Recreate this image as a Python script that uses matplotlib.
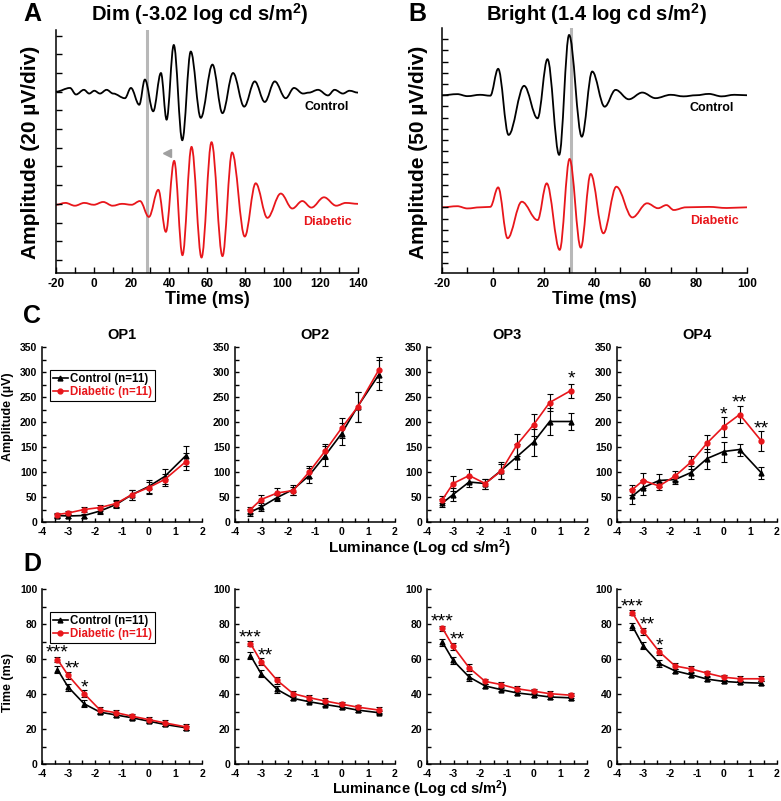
import matplotlib.pyplot as plt
from matplotlib.path import Path
from matplotlib.patches import PathPatch
from matplotlib.ticker import MultipleLocator

plt.rcParams['font.family'] = ['Liberation Sans', 'DejaVu Sans']
plt.rcParams['font.weight'] = 'bold'
plt.rcParams['axes.linewidth'] = 1.1
plt.rcParams['axes.unicode_minus'] = False
plt.rcParams['mathtext.fontset'] = 'custom'
plt.rcParams['mathtext.rm'] = 'Liberation Sans:bold'
plt.rcParams['mathtext.default'] = 'rm'

# --- A: dim flash waveforms, extrema (time ms, amplitude uV) ---
dim_control = [(-20, 180), (-12.6, 184), (-9.4, 177), (-5.2, 182), (-2.4, 178), (0.3, 181),
               (3.3, 178), (6.8, 182), (10.3, 178), (16.5, 173), (19.7, 184), (24.1, 166),
               (27.1, 193), (31.5, 159), (35.6, 200), (38.6, 150), (42.4, 230), (46.9, 128),
               (51.4, 223), (56.7, 152), (62.9, 209), (68.2, 157), (73.8, 200), (79.7, 164),
               (85.3, 191), (90.6, 169), (95.9, 191), (101.7, 173), (106.1, 184), (110.9, 178),
               (114, 179), (118.8, 182), (124.1, 176), (127.6, 182), (132, 178), (135.5, 181),
               (140, 179)]
dim_diabetic = [(-20, 59), (-15, 61), (-10, 58), (-5, 61), (0, 59), (5, 62), (10, 58), (15, 60),
                (20, 59), (24.5, 63), (29.2, 46), (34.2, 75), (38.2, 30), (42.6, 106), (47.0, 5),
                (51.8, 121), (57.1, 2.5), (62.4, 126), (68.2, 4), (73.3, 115), (80.0, 25),
                (85.8, 82), (92.0, 45), (99.1, 71), (105.2, 55), (110.5, 63), (115.3, 56),
                (122.0, 67), (128.5, 58), (133.5, 61), (140, 60)]
dim_marker_t = 28.0
dim_arrow = (38.6, 114)

# --- B: bright flash waveforms ---
bright_control = [(-20, 750), (-14, 755), (-10, 746), (-5, 752), (-1, 748), (2.1, 868), (6.2, 573),
                  (12.3, 792), (17.6, 647), (21.5, 911), (26.1, 484), (30.0, 1019), (35.0, 565),
                  (39.1, 856), (44.0, 699), (48.3, 774), (53.5, 732), (58.8, 762), (64.0, 737),
                  (70, 752), (75, 745), (80, 750), (85, 756), (90, 745), (95, 752), (100, 750)]
bright_diabetic = [(-20, 250), (-14, 255), (-10, 245), (-5, 250), (-1, 252), (2.1, 339), (5.8, 112),
                   (11.4, 275), (17.6, 193), (21.2, 357), (26.3, 60), (30.2, 466), (34.6, 70),
                   (38.5, 399), (43.5, 134), (48.6, 342), (54.9, 205), (60.7, 268), (65, 246),
                   (68.3, 260), (71.2, 238), (76, 250), (85, 252), (92, 247), (100, 250)]
bright_marker_t = 30.8

# --- C / D: OP amplitudes and implicit times ---
lum = [-3.42, -3.02, -2.42, -1.82, -1.22, -0.62, 0.0, 0.6, 1.4]
op_names = ['OP1', 'OP2', 'OP3', 'OP4']

amp_control = [[13, 12, 13, 22, 35, 55, 71, 91, 133],
               [20, 30, 49, 65, 93, 133, 177, 231, 295],
               [38, 55, 80, 77, 103, 131, 160, 201, 201],
               [52, 69, 83, 85, 99, 127, 141, 145, 99]]
amp_control_err = [[4, 4, 4, 6, 7, 10, 13, 15, 20],
                   [7, 8, 6, 10, 15, 20, 22, 30, 30],
                   [8, 13, 10, 10, 17, 25, 27, 27, 17],
                   [15, 15, 13, 8, 13, 20, 20, 12, 12]]
amp_diabetic = [[15, 18, 25, 29, 37, 55, 69, 85, 121],
                [25, 45, 58, 63, 100, 142, 188, 230, 305],
                [45, 77, 93, 77, 102, 155, 195, 239, 263],
                [65, 83, 72, 92, 120, 158, 191, 215, 163]]
amp_diabetic_err = [[4, 4, 5, 6, 7, 10, 12, 12, 17],
                    [6, 10, 10, 8, 12, 15, 20, 30, 25],
                    [7, 15, 14, 10, 15, 22, 22, 17, 14],
                    [10, 15, 8, 10, 13, 17, 20, 17, 20]]
amp_stars = [[], [], [(8, '*')], [(6, '*'), (7, '**'), (8, '**')]]

time_control = [[54, 44, 34.4, 29.6, 28, 26.4, 24.5, 22.6, 20.7],
                [62, 51.6, 42.6, 37.5, 35.6, 34, 32.5, 30.8, 29.3],
                [69.6, 59.2, 49.7, 44.6, 42.5, 40.6, 39.5, 38.3, 37.8],
                [78.7, 67.5, 57.5, 53.2, 51, 48.5, 47.2, 46.6, 46.2]]
time_control_err = [[2, 2, 2, 1, 1, 1, 1, 1, 1]] * 4
time_diabetic = [[59.7, 50.7, 40.2, 30.8, 29.3, 27.3, 25.4, 23.5, 21.2],
                 [68.8, 58.5, 47.8, 40.2, 37.9, 36, 34.2, 32.5, 30.8],
                 [77.6, 67.2, 55, 47.2, 45.4, 43, 41.6, 40.2, 39.3],
                 [86.4, 76, 64.2, 56, 54.3, 51.9, 49.6, 48.7, 48.7]]
time_diabetic_err = [[1.5, 2, 2, 1.5, 1.5, 1.5, 1.5, 1.5, 1.5]] * 4
time_stars = [[(0, '***'), (1, '**'), (2, '*')], [(0, '***'), (1, '**')],
              [(0, '***'), (1, '**')], [(0, '***'), (1, '**'), (2, '*')]]

RED = '#e8161b'
W, H = 781, 801
fig = plt.figure(figsize=(W / 100, H / 100), dpi=100)


def add_ax(x0, x1, y0, y1):
    ax = fig.add_axes([x0 / W, 1 - y1 / H, (x1 - x0) / W, (y1 - y0) / H])
    ax.spines['top'].set_visible(False)
    ax.spines['right'].set_visible(False)
    ax.tick_params(which='both', direction='in', length=4, width=1, labelsize=8.5)
    return ax


def ftext(x, y, s, **kw):
    fig.text(x / W, 1 - y / H, s, **kw)


def wave(ax, pts, color):
    # smooth curve through the extrema, flat tangent at each one
    verts = [pts[0]]
    codes = [Path.MOVETO]
    for (t0, v0), (t1, v1) in zip(pts[:-1], pts[1:]):
        d = (t1 - t0) * 0.36
        verts += [(t0 + d, v0), (t1 - d, v1), (t1, v1)]
        codes += [Path.CURVE4] * 3
    ax.add_patch(PathPatch(Path(verts, codes), fill=False, edgecolor=color, lw=1.3,
                           capstyle='round', joinstyle='round'))


# panel A
axA = add_ax(56, 358, 30, 273)
axA.axvline(dim_marker_t, color='#b8b8b8', lw=2.2, zorder=0)
wave(axA, dim_control, 'black')
wave(axA, dim_diabetic, RED)
axA.plot(*dim_arrow, marker='<', color='#a0a0a0', ms=6)
axA.set_xlim(-20, 140)
axA.set_ylim(-14, 246)
axA.xaxis.set_major_locator(MultipleLocator(20))
axA.xaxis.set_minor_locator(MultipleLocator(10))
axA.set_yticks(range(0, 241, 20))
axA.set_yticklabels([])
axA.text(135, 164, 'Control', ha='right', va='center', fontsize=9)
axA.text(136.5, 41, 'Diabetic', ha='right', va='center', fontsize=9, color=RED)
ftext(32, 14, 'A', fontsize=18, ha='center', va='center')
ftext(200, 14, 'Dim (-3.02 log cd s/m$^2$)', fontsize=14.5, ha='center', va='center')
ftext(31, 152, 'Amplitude (20 µV/div)', fontsize=15, rotation=90, ha='center', va='center')
ftext(207, 300, 'Time (ms)', fontsize=13, ha='center', va='center')

# panel B
axB = add_ax(442, 747, 28, 273)
axB.axvline(bright_marker_t, color='#b8b8b8', lw=2.2, zorder=0)
wave(axB, bright_control, 'black')
wave(axB, bright_diabetic, RED)
axB.set_xlim(-20, 100)
axB.set_ylim(-43, 1050)
axB.xaxis.set_major_locator(MultipleLocator(20))
axB.xaxis.set_minor_locator(MultipleLocator(10))
axB.set_yticks(range(0, 1001, 50))
axB.set_yticklabels([])
axB.text(94.8, 692, 'Control', ha='right', va='center', fontsize=9)
axB.text(96.7, 190, 'Diabetic', ha='right', va='center', fontsize=9, color=RED)
ftext(417, 14, 'B', fontsize=18, ha='center', va='center')
ftext(596, 14, 'Bright (1.4 log cd s/m$^2$)', fontsize=14.5, ha='center', va='center')
ftext(419, 152, 'Amplitude (50 µV/div)', fontsize=15, rotation=90, ha='center', va='center')
ftext(594, 300, 'Time (ms)', fontsize=13, ha='center', va='center')

# panels C and D
cols = [(42, 202), (235, 395), (427, 587), (617, 777)]


def op_panel(ax, yc, yce, yd, yde, stars, star_off, star_dx):
    ax.errorbar(lum, yc, yerr=yce, fmt='none', ecolor='black', elinewidth=0.8, capsize=2, capthick=0.8)
    ax.errorbar(lum, yd, yerr=yde, fmt='none', ecolor='black', elinewidth=0.8, capsize=2, capthick=0.8)
    ax.plot(lum, yc, color='black', marker='^', ms=3.5, lw=1.2, label='Control (n=11)')
    ax.plot(lum, yd, color=RED, marker='o', ms=3.5, lw=1.2, label='Diabetic (n=11)')
    for i, s in stars:
        dx = star_dx if s == '**' else 0
        ax.text(lum[i] + dx, yd[i] + star_off, s, ha='center', va='center', fontsize=14,
                fontweight='normal')
    ax.set_xlim(-4, 2)
    ax.xaxis.set_major_locator(MultipleLocator(1))
    ax.xaxis.set_minor_locator(MultipleLocator(0.5))
    ax.tick_params(which='both', labelsize=7.5, length=3)


def legend(ax):
    leg = ax.legend(loc='upper left', bbox_to_anchor=(0.05, 0.87), fontsize=8.3, handlelength=1.3,
                    handletextpad=0.2, borderpad=0.25, labelspacing=0.15, fancybox=False,
                    edgecolor='black', framealpha=1, borderaxespad=0)
    leg.get_frame().set_linewidth(0.8)
    for txt, c in zip(leg.get_texts(), ['black', RED]):
        txt.set_color(c)


for k in range(4):
    x0, x1 = cols[k]
    axc = add_ax(x0, x1, 347, 522)
    op_panel(axc, amp_control[k], amp_control_err[k], amp_diabetic[k], amp_diabetic_err[k],
             amp_stars[k], 24, 0)
    axc.set_ylim(0, 350)
    axc.yaxis.set_major_locator(MultipleLocator(50))
    axc.yaxis.set_minor_locator(MultipleLocator(25))
    axc.set_title(op_names[k], fontsize=10.5, fontweight='bold', pad=6)

    axd = add_ax(x0, x1, 589, 764)
    op_panel(axd, time_control[k], time_control_err[k], time_diabetic[k], time_diabetic_err[k],
             time_stars[k], 3.5, 0.15)
    axd.set_ylim(0, 100)
    axd.yaxis.set_major_locator(MultipleLocator(20))
    axd.yaxis.set_minor_locator(MultipleLocator(10))
    if k == 0:
        legend(axc)
        legend(axd)

ftext(32, 316, 'C', fontsize=18, ha='center', va='center')
ftext(32, 564, 'D', fontsize=18, ha='center', va='center')
ftext(8, 417, 'Amplitude (µV)', fontsize=9, rotation=90, ha='center', va='center')
ftext(8, 682, 'Time (ms)', fontsize=9, rotation=90, ha='center', va='center')
ftext(420, 548, 'Luminance (Log cd s/m$^2$)', fontsize=11, ha='center', va='center')
ftext(420, 794, 'Luminance (Log cd s/m$^2$)', fontsize=10.5, ha='center', va='baseline')

fig.savefig('out.png', dpi=100)
